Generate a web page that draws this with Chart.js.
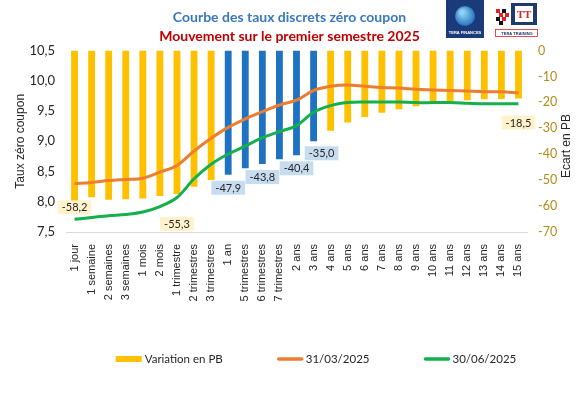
<!DOCTYPE html>
<html>
<head>
<meta charset="utf-8">
<script src="https://cdn.jsdelivr.net/npm/chart.js@4/dist/chart.umd.min.js"></script>
<style>
  html, body { margin: 0; padding: 0; background: #ffffff; }
  #wrap { width: 579px; height: 397px; }
</style>
</head>
<body>
<div id="wrap"><canvas id="curve-chart" width="579" height="397"></canvas></div>
<script>
// ─── Data ───────────────────────────────────────
const maturities = [
  '1 jour', '1 semaine', '2 semaines', '3 semaines', '1 mois', '2 mois',
  '1 trimestre', '2 trimestres', '3 trimestres', '1 an', '5 trimestres',
  '6 trimestres', '7 trimestres', '2 ans', '3 ans', '4 ans', '5 ans', '6 ans',
  '7 ans', '8 ans', '9 ans', '10 ans', '11 ans', '12 ans', '13 ans', '14 ans', '15 ans'
];
const variationPB = [
  -58.2, -56.6, -57.6, -57.4, -57.1, -56.1, -55.3, -52.5, -49.9, -47.9, -45.4,
  -43.8, -41.9, -40.4, -35.0, -30.9, -27.7, -25.6, -24.0, -22.6, -21.5, -20.0,
  -19.6, -19.2, -18.8, -18.7, -18.5
];
const rates0331 = [
  8.30, 8.32, 8.35, 8.37, 8.39, 8.49, 8.60, 8.84, 9.05, 9.23, 9.37, 9.49, 9.60,
  9.68, 9.84, 9.91, 9.93, 9.91, 9.89, 9.88, 9.86, 9.85, 9.84, 9.83, 9.82, 9.82, 9.80
];
const rates0630 = [
  7.71, 7.74, 7.77, 7.79, 7.83, 7.92, 8.07, 8.38, 8.62, 8.79, 8.92, 9.06, 9.16,
  9.26, 9.48, 9.59, 9.64, 9.65, 9.65, 9.65, 9.64, 9.64, 9.64, 9.63, 9.62, 9.62, 9.62
];
const rateTicks = [7.5, 8.0, 8.5, 9.0, 9.5, 10.0, 10.5];
const pbTicks = [-70, -60, -50, -40, -30, -20, -10, 0];
const blueBars = [9, 10, 11, 12, 13, 14];
const labelledBars = [0, 6, 9, 11, 13, 14, 26];

// ─── Colours ────────────────────────────────────
const YELLOW = '#FFC000';
const BLUE = '#1F72C2';
const ORANGE = '#ED7D31';
const GREEN = '#14B04C';
const GOLD = '#B08D1A';
const TEXT = '#262626';

const fmt = v => v.toFixed(1).replace('.', ',');

// ─── Bar value labels ───────────────────────────
// [dx, dy] from the bar end to the label centre
const labelShift = { 0: [0, 6], 6: [0, 30], 9: [0, 13], 11: [0, 13], 13: [0, 13], 14: [8, 12], 26: [0, 24] };

const barLabels = {
  id: 'barLabels',
  afterDatasetsDraw(chart) {
    const meta = chart.getDatasetMeta(0);
    const ctx = chart.ctx;
    ctx.save();
    ctx.font = '11px Lato';
    ctx.textAlign = 'center';
    ctx.textBaseline = 'middle';
    labelledBars.forEach(i => {
      const bar = meta.data[i];
      const [dx, dy] = labelShift[i] || [0, 12];
      const txt = fmt(variationPB[i]);
      const w = ctx.measureText(txt).width + 8;
      const h = 14;
      const cx = bar.x + dx;
      const cy = bar.y + dy;
      ctx.fillStyle = blueBars.includes(i) ? '#C8DCF0' : '#FFF2CC';
      ctx.fillRect(cx - w / 2, cy - h / 2, w, h);
      ctx.fillStyle = TEXT;
      ctx.fillText(txt, cx, cy + 0.5);
    });
    ctx.restore();
  }
};

// ─── Legend, right title, logos ─────────────────
const decorations = {
  id: 'decorations',
  afterDraw(chart) {
    const ctx = chart.ctx;
    ctx.save();

    // legend
    ctx.font = '11.5px Lato';
    ctx.textBaseline = 'middle';
    ctx.textAlign = 'left';
    const items = chart.data.datasets.map(ds => ({
      text: ds.label, type: ds.type || 'bar',
      color: ds.type === 'line' ? ds.borderColor : YELLOW
    }));
    const sw = 26, gapText = 3, gapItem = 54, ly = 359;
    const widths = items.map(it => sw + gapText + ctx.measureText(it.text).width);
    const total = widths.reduce((a, b) => a + b, 0) + gapItem * (items.length - 1);
    let x = 316 - total / 2;
    items.forEach((it, k) => {
      if (it.type === 'line') {
        ctx.strokeStyle = it.color;
        ctx.lineWidth = 3.5;
        ctx.lineCap = 'round';
        ctx.beginPath();
        ctx.moveTo(x + 2, ly);
        ctx.lineTo(x + sw - 1, ly);
        ctx.stroke();
      } else {
        ctx.fillStyle = it.color;
        ctx.fillRect(x, ly - 3, sw, 6);
      }
      ctx.fillStyle = TEXT;
      ctx.fillText(it.text, x + sw + gapText, ly + 0.5);
      x += widths[k] + gapItem;
    });

    // right axis title (reads bottom to top like the left one)
    ctx.save();
    ctx.translate(567, 146);
    ctx.rotate(-Math.PI / 2);
    ctx.font = '12px "Liberation Sans"';
    ctx.textAlign = 'center';
    ctx.fillStyle = TEXT;
    ctx.fillText('Ecart en PB', 0, 0);
    ctx.restore();

    // logo 1 : Tera Finances
    ctx.fillStyle = '#1B3A7A';
    ctx.fillRect(446, 0, 38, 38);
    const g = ctx.createRadialGradient(462, 12, 2, 465, 16, 11);
    g.addColorStop(0, '#8FD0F5');
    g.addColorStop(1, '#1C6FB8');
    ctx.fillStyle = g;
    ctx.beginPath();
    ctx.arc(465, 16, 10, 0, Math.PI * 2);
    ctx.fill();
    ctx.fillStyle = '#ffffff';
    ctx.font = 'bold 4px "Liberation Sans"';
    ctx.textAlign = 'center';
    ctx.fillText('TERA FINANCES', 465, 33);

    // logo 2 : Tera Training
    const sq = [[496, 9, '#D9252A'], [502, 9, '#111111'], [499, 13, '#D9252A'], [505, 13, '#D9252A'],
                [496, 17, '#111111'], [502, 17, '#D9252A'], [499, 21, '#111111']];
    sq.forEach(([sx, sy, c]) => { ctx.fillStyle = c; ctx.fillRect(sx, sy, 4, 4); });
    ctx.fillStyle = '#1F3A6E';
    ctx.fillRect(511, 3, 26, 22);
    ctx.fillStyle = '#ffffff';
    ctx.fillRect(515, 6, 18, 16);
    ctx.fillStyle = '#D9252A';
    ctx.font = 'bold 11px "Liberation Serif"';
    ctx.fillText('TT', 524, 15);
    ctx.strokeStyle = '#D9252A';
    ctx.lineWidth = 0.8;
    ctx.strokeRect(495.5, 29.5, 42, 7);
    ctx.fillStyle = '#1F3A6E';
    ctx.font = 'bold 4px "Liberation Sans"';
    ctx.fillText('TERA TRAINING', 517, 33.5);

    ctx.restore();
  }
};

// ─── Chart ──────────────────────────────────────
const ctx = document.getElementById('curve-chart');
new Chart(ctx, {
  data: {
    labels: maturities,
    datasets: [
      {
        type: 'bar',
        label: 'Variation en PB',
        data: variationPB,
        yAxisID: 'yPB',
        backgroundColor: c => blueBars.includes(c.dataIndex) ? BLUE : YELLOW,
        barPercentage: 0.4,
        categoryPercentage: 1,
        order: 2,
      },
      {
        type: 'line',
        label: '31/03/2025',
        data: rates0331,
        yAxisID: 'yRate',
        borderColor: ORANGE,
        backgroundColor: ORANGE,
        borderWidth: 3,
        pointRadius: 0,
        tension: 0.35,
        order: 1,
      },
      {
        type: 'line',
        label: '30/06/2025',
        data: rates0630,
        yAxisID: 'yRate',
        borderColor: GREEN,
        backgroundColor: GREEN,
        borderWidth: 3,
        pointRadius: 0,
        tension: 0.35,
        order: 0,
      },
    ],
  },
  options: {
    responsive: false,
    animation: false,
    layout: { padding: { top: 0, left: 0, right: 0, bottom: 0 } },
    plugins: {
      legend: { display: false },
      tooltip: { enabled: false },
      title: {
        display: true,
        text: 'Courbe des taux discrets zéro coupon',
        color: '#3A78BE',
        font: { family: 'Lato', size: 14, weight: 'bold' },
        padding: { top: 9, bottom: 2 },
      },
      subtitle: {
        display: true,
        text: 'Mouvement sur le premier semestre 2025',
        color: '#C00000',
        font: { family: 'Lato', size: 14, weight: 'bold' },
        padding: { top: 0, bottom: 6 },
      },
    },
    scales: {
      x: {
        grid: { display: false },
        border: { display: true, color: '#D9D9D9', width: 1 },
        ticks: {
          autoSkip: false, minRotation: 90, maxRotation: 90, padding: 4,
          color: TEXT, font: { family: 'Liberation Sans', size: 11 },
        },
        afterFit: s => { s.height = 165; },
      },
      yRate: {
        position: 'left',
        min: 7.5, max: 10.5,
        grid: { display: false, drawTicks: false },
        border: { display: false },
        afterBuildTicks: s => { s.ticks = rateTicks.map(v => ({ value: v })); },
        ticks: { padding: 11, color: TEXT, font: { family: 'Lato', size: 13 }, callback: v => fmt(v) },
        title: {
          display: true, text: 'Taux zéro coupon', color: TEXT,
          font: { family: 'Liberation Sans', size: 12 }, padding: { top: 13, bottom: 0 },
        },
        afterFit: s => { s.width = 66; },
      },
      yPB: {
        position: 'right',
        min: -70, max: 0,
        grid: { display: false, drawTicks: false },
        border: { display: false },
        afterBuildTicks: s => { s.ticks = pbTicks.map(v => ({ value: v })); },
        ticks: { padding: 11, color: GOLD, font: { family: 'Lato', size: 12.5 }, callback: v => String(v) },
        afterFit: s => { s.width = 52; },
      },
    },
  },
  plugins: [barLabels, decorations],
});
</script>
</body>
</html>
